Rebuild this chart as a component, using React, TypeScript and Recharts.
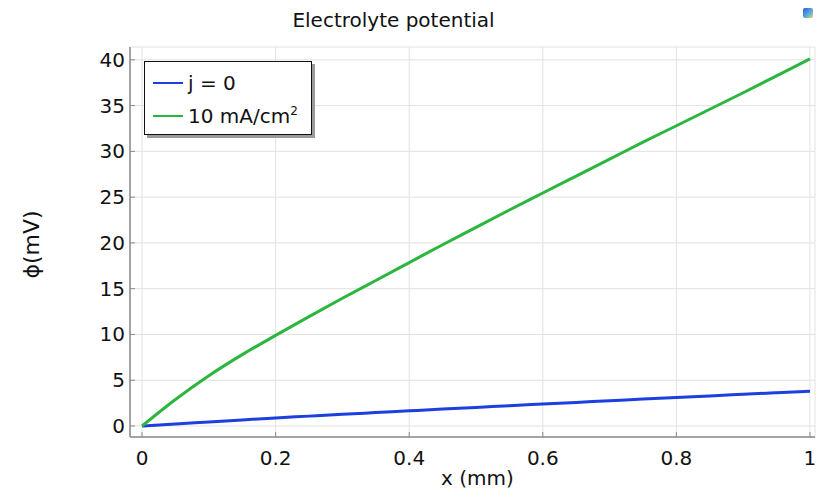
import { LineChart, Line, XAxis, YAxis, CartesianGrid } from "recharts";

const xValues = [0, 0.05, 0.1, 0.15, 0.2, 0.25, 0.3, 0.35, 0.4, 0.45, 0.5, 0.55, 0.6, 0.65, 0.7, 0.75, 0.8, 0.85, 0.9, 0.95, 1.0];
const jZero = [0, 0.23, 0.45, 0.67, 0.88, 1.08, 1.28, 1.47, 1.66, 1.85, 2.03, 2.22, 2.4, 2.58, 2.76, 2.94, 3.11, 3.29, 3.46, 3.63, 3.8];
const jTen = [0, 2.9, 5.5, 7.8, 9.9, 11.95, 13.95, 15.9, 17.85, 19.8, 21.7, 23.6, 25.45, 27.3, 29.15, 31.0, 32.8, 34.6, 36.4, 38.25, 40.1];

const xTicks = [0, 0.2, 0.4, 0.6, 0.8, 1];
const yTicks = [0, 5, 10, 15, 20, 25, 30, 35, 40];

const series = [
  { key: "j0", label: "j = 0", sup: "", color: "#1c3fe0" },
  { key: "j10", label: "10 mA/cm", sup: "2", color: "#2cb53f" },
];

const data = xValues.map((x, i) => ({ x, j0: jZero[i], j10: jTen[i] }));

const FONT = "'DejaVu Sans', sans-serif";
const FRAME = "#8a8a8a";

const BottomTick = (props: any) => {
  const { x, y, payload } = props;
  return (
    <g>
      <line x1={x} y1={y - 12} x2={x} y2={y - 17} stroke={FRAME} />
      <text x={x} y={y} dy={16} textAnchor="middle" fill="#111" fontSize={20} fontFamily={FONT}>
        {payload.value}
      </text>
    </g>
  );
};

const LeftTick = (props: any) => {
  const { x, y, payload } = props;
  return (
    <g>
      <line x1={x + 5} y1={y} x2={x + 10} y2={y} stroke={FRAME} />
      <text x={x} y={y} dy={7} textAnchor="end" fill="#111" fontSize={20} fontFamily={FONT}>
        {payload.value}
      </text>
    </g>
  );
};

const TopTick = (props: any) => {
  const { x, y } = props;
  return <line x1={x} y1={y} x2={x} y2={y + 5} stroke={FRAME} />;
};

const RightTick = (props: any) => {
  const { x, y } = props;
  return <line x1={x} y1={y} x2={x - 5} y2={y} stroke={FRAME} />;
};

export default function App() {
  return (
    <div style={{ position: "absolute", left: 0, top: 0, width: 823, height: 491, background: "#fff", fontFamily: FONT }}>
      <LineChart width={823} height={491} data={data} margin={{ top: 47, right: 8, left: 80, bottom: 24 }}>
        <CartesianGrid stroke="#e2e2e2" strokeWidth={1} />
        <XAxis
          dataKey="x"
          type="number"
          domain={[-0.018, 1.0075]}
          ticks={xTicks}
          allowDataOverflow
          height={30}
          tickSize={0}
          tickMargin={12}
          tickLine={false}
          axisLine={{ stroke: FRAME, strokeWidth: 1.5 }}
          tick={<BottomTick />}
          interval={0}
        />
        <XAxis
          xAxisId="top"
          orientation="top"
          dataKey="x"
          type="number"
          domain={[-0.018, 1.0075]}
          ticks={xTicks}
          allowDataOverflow
          height={0}
          tickSize={0}
          tickMargin={0}
          tickLine={false}
          axisLine={{ stroke: FRAME, strokeWidth: 1.5 }}
          tick={<TopTick />}
          interval={0}
        />
        <YAxis
          type="number"
          domain={[-1.2, 41.4]}
          ticks={yTicks}
          allowDataOverflow
          width={50}
          tickSize={0}
          tickMargin={5}
          tickLine={false}
          axisLine={{ stroke: FRAME, strokeWidth: 1.5 }}
          tick={<LeftTick />}
          interval={0}
        />
        <YAxis
          yAxisId="right"
          orientation="right"
          type="number"
          domain={[-1.2, 41.4]}
          ticks={yTicks}
          allowDataOverflow
          width={0}
          tickSize={0}
          tickMargin={0}
          tickLine={false}
          axisLine={{ stroke: FRAME, strokeWidth: 1.5 }}
          tick={<RightTick />}
          interval={0}
        />
        {series.map((s) => (
          <Line
            key={s.key}
            dataKey={s.key}
            type="monotone"
            stroke={s.color}
            strokeWidth={3}
            dot={false}
            isAnimationActive={false}
          />
        ))}
      </LineChart>

      <div style={{ position: "absolute", left: 0, width: 787, top: 8, textAlign: "center", fontSize: 20, color: "#111" }}>
        Electrolyte potential
      </div>
      <div style={{ position: "absolute", left: 803, top: 8, width: 10, height: 10, background: "linear-gradient(135deg, #2a5bd8, #5fb0e0 60%, #e8d64a)", borderRadius: 2 }} />
      <div
        style={{
          position: "absolute",
          left: 0,
          top: 0,
          width: 62,
          height: 491,
          display: "flex",
          alignItems: "center",
          justifyContent: "center",
        }}
      >
        <div style={{ transform: "rotate(-90deg)", fontSize: 22, color: "#111", whiteSpace: "nowrap", marginTop: -2 }}>ϕ(mV)</div>
      </div>
      <div style={{ position: "absolute", left: 130, width: 695, top: 466, textAlign: "center", fontSize: 20, color: "#111" }}>
        x (mm)
      </div>

      <div
        style={{
          position: "absolute",
          left: 144,
          top: 61,
          width: 168,
          height: 74,
          border: "1px solid #111",
          background: "#fff",
          boxShadow: "3px 3px 0 #9a9a9a",
          boxSizing: "border-box",
          padding: "4px 0 0 8px",
          fontSize: 20,
          color: "#111",
        }}
      >
        {series.map((s) => (
          <div key={s.key} style={{ display: "flex", alignItems: "center", height: 33 }}>
            <div style={{ width: 30, height: 2, background: s.color, marginRight: 5 }} />
            <span>
              {s.label}
              {s.sup && <sup style={{ fontSize: 12 }}>{s.sup}</sup>}
            </span>
          </div>
        ))}
      </div>
    </div>
  );
}
